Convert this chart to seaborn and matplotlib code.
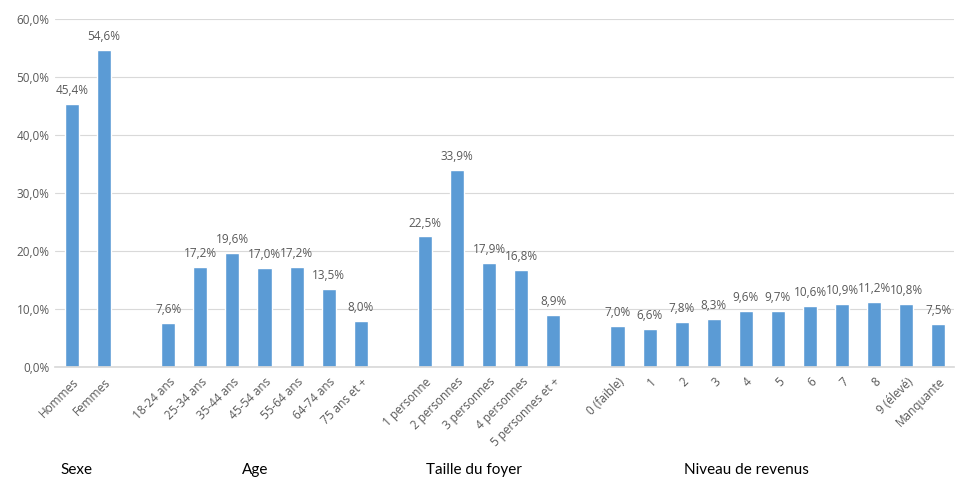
import matplotlib
matplotlib.use("Agg")
import matplotlib.pyplot as plt
import seaborn as sns
import pandas as pd

# ---- data ----
sexe_cats = ["Hommes", "Femmes"]
sexe_vals = [45.4, 54.6]
age_cats = ["18-24 ans", "25-34 ans", "35-44 ans", "45-54 ans", "55-64 ans", "64-74 ans", "75 ans et +"]
age_vals = [7.6, 17.2, 19.6, 17.0, 17.2, 13.5, 8.0]
foyer_cats = ["1 personne", "2 personnes", "3 personnes", "4 personnes", "5 personnes et +"]
foyer_vals = [22.5, 33.9, 17.9, 16.8, 8.9]
revenu_cats = ["0 (faible)", "1", "2", "3", "4", "5", "6", "7", "8", "9 (élevé)", "Manquante"]
revenu_vals = [7.0, 6.6, 7.8, 8.3, 9.6, 9.7, 10.6, 10.9, 11.2, 10.8, 7.5]
group_titles = ["Sexe", "Age", "Taille du foyer", "Niveau de revenus"]
y_ticks = [0, 10, 20, 30, 40, 50, 60]

groups = [(sexe_cats, sexe_vals), (age_cats, age_vals), (foyer_cats, foyer_vals), (revenu_cats, revenu_vals)]
cats, vals, order = [], [], []
for gi, (c, v) in enumerate(groups):
    cats += c
    vals += v
    order += c
    if gi < len(groups) - 1:
        order.append(" " * (gi + 1))  # empty spacer slot
df = pd.DataFrame({"cat": cats, "val": vals})

sns.set_theme(style="white")
plt.rcParams["font.family"] = ["Open Sans", "DejaVu Sans"]

fig = plt.figure(figsize=(9.69, 4.96), dpi=100)
ax = fig.add_axes([0.057, 0.26, 0.928, 0.702])

bar_color = "#5B9BD5"
sns.barplot(data=df, x="cat", y="val", order=order, color=bar_color, width=0.44,
            saturation=1, ax=ax, errorbar=None)

for cont in ax.containers:
    labels = [f"{v:.1f}".replace(".", ",") + "%" if v == v else "" for v in cont.datavalues]
    ax.bar_label(cont, labels=labels, padding=5, fontsize=8.5, color="#595959")

ax.set_ylim(0, 60)
ax.set_xlim(-0.52, len(order) - 0.5)
ax.set_yticks(y_ticks)
ax.set_yticklabels([f"{t:.1f}".replace(".", ",") + "%" for t in y_ticks], fontsize=8.5, color="#595959")
ax.yaxis.grid(True, color="#D9D9D9", linewidth=0.8)
ax.set_axisbelow(True)
for s in ["top", "right", "left"]:
    ax.spines[s].set_visible(False)
ax.spines["bottom"].set_color("#D9D9D9")
ax.tick_params(axis="both", length=0, pad=4)
ax.set_xlabel("")
ax.set_ylabel("")
ax.set_xticks(range(len(order)))
ax.set_xticklabels(order, rotation=45, ha="right", rotation_mode="anchor", fontsize=8.5, color="#595959")
ax.tick_params(axis="x", pad=6)

title_x = [76, 255, 474, 746]
for t, px in zip(group_titles, title_x):
    fig.text(px / 969, 1 - 470 / 496, t, ha="center", va="center", fontsize=11,
             family=["Lato", "DejaVu Sans"], color="black")

fig.savefig("out.png", dpi=100)
